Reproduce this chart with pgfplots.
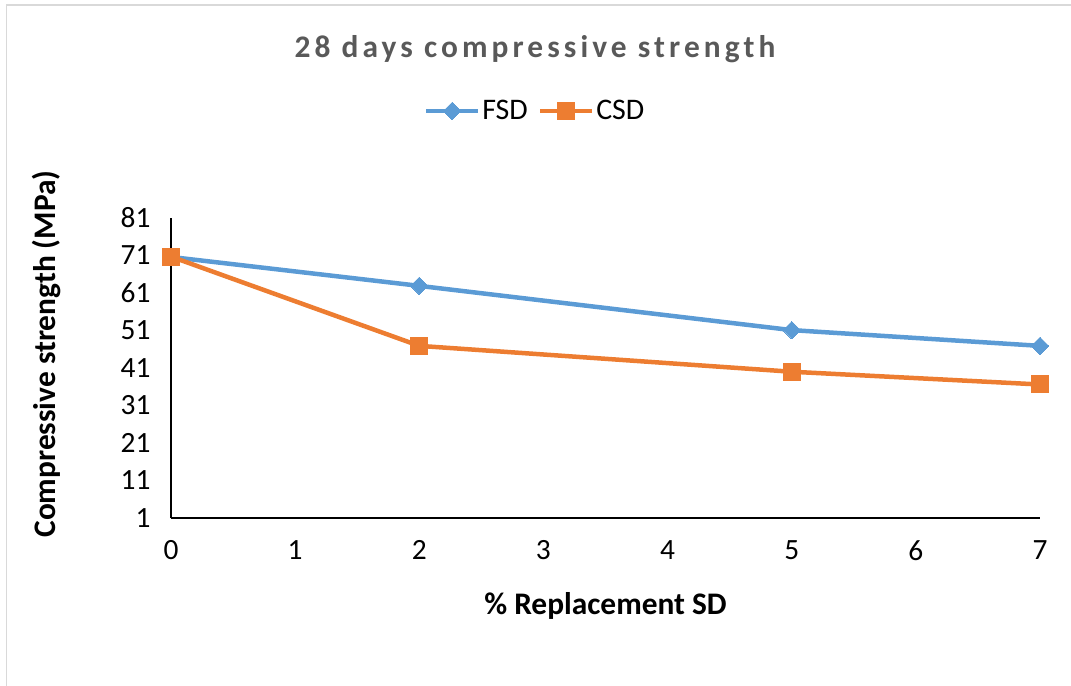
\documentclass[border=0pt]{standalone}
\usepackage{pgfplots}
\pgfplotsset{compat=1.18}
\usepackage{fontspec}
\setmainfont{Carlito}
\newfontfamily\titlefont[LetterSpace=13]{Carlito}

\definecolor{fsdblue}{HTML}{5B9BD5}
\definecolor{csdorange}{HTML}{ED7D31}
\definecolor{titlegray}{HTML}{595959}
\definecolor{framegray}{HTML}{D9D9D9}

\begin{document}
\begin{tikzpicture}[x=1bp,y=1bp]
\path[use as bounding box] (0,0) rectangle (1071,686);
% chart frame
\draw[framegray, line width=1.5bp] (6.5,0) -- (6.5,681) -- (1071,681);
% chart title
\node[font=\titlefont\bfseries\fontsize{31.5}{36}\selectfont, text=titlegray] at (535,637) {28 days compressive strength};

\begin{axis}[
  scale only axis,
  width=869bp, height=300bp,
  at={(171bp,168bp)}, anchor=south west,
  xmin=0, xmax=7, ymin=1, ymax=81,
  xtick={0,1,...,7}, ytick={1,11,...,81},
  axis x line*=bottom, axis y line*=left,
  axis line style={black, line width=1.3bp, -},
  tick style={draw=none},
  /pgf/number format/assume math mode=true,
  ticklabel style={font=\fontsize{29.5}{33}\selectfont},
  xticklabel style={yshift=-19bp},
  yticklabel style={xshift=-17bp},
  xlabel={\textbf{\% Replacement SD}},
  ylabel={\textbf{Compressive strength (MPa)}},
  label style={font=\fontsize{31.5}{36}\selectfont},
  xlabel style={at={(axis description cs:0.5,0)}, anchor=center, yshift=-88bp},
  ylabel style={at={(axis description cs:0,0.5)}, anchor=center, xshift=14bp, yshift=124bp},
  clip=false,
  legend columns=2,
  legend style={draw=none, fill=none, at={(0.419,1.357)}, anchor=center,
    font=\fontsize{30}{34}\selectfont,
    /tikz/every even column/.append style={column sep=8bp}},
  legend image code/.code={%
    \draw[mark repeat=2, mark phase=2] plot coordinates {(0bp,0bp) (26bp,0bp) (52bp,0bp)};},
]
\addplot[fsdblue, line width=4.5bp, mark=square*, mark size=6.2bp,
  mark options={solid, fill=fsdblue, line width=0bp, rotate=45}]
  coordinates {(0,70.6) (2,62.9) (5,51.1) (7,46.9)};
\addlegendentry{FSD}
\addplot[csdorange, line width=4.5bp, mark=square*, mark size=8.5bp,
  mark options={solid, fill=csdorange, line width=0bp}]
  coordinates {(0,70.7) (2,46.9) (5,40.0) (7,36.6)};
\addlegendentry{CSD}
\end{axis}
\end{tikzpicture}
\end{document}
